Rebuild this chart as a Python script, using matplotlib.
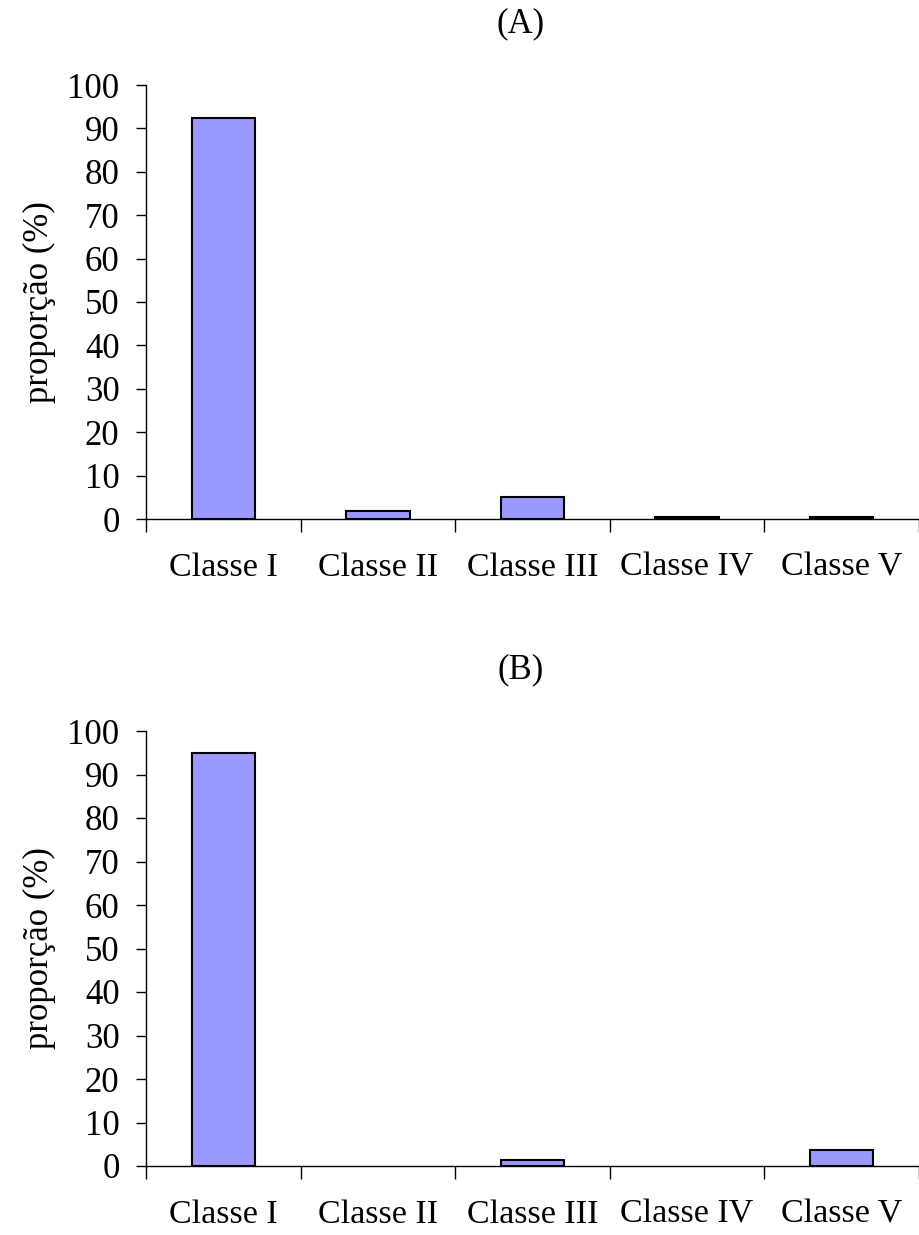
import numpy as np
import matplotlib.pyplot as plt

plt.rcParams["font.family"] = ["Liberation Serif", "DejaVu Serif"]

classes = ["Classe I", "Classe II", "Classe III", "Classe IV", "Classe V"]
prop_a = [92.3, 1.8, 5.1, 0.5, 0.5]
prop_b = [95.0, 0.0, 1.4, 0.0, 3.7]
panel_titles = ["(A)", "(B)"]

W, H = 919, 1235
fig = plt.figure(figsize=(W / 100, H / 100), dpi=100)


def px_axes(left, top, right, bottom):
    return fig.add_axes([left / W, 1 - bottom / H, (right - left) / W, (bottom - top) / H])


axes = [px_axes(146, 85, 919, 519), px_axes(146, 731, 919, 1166)]

for ax, vals, title in zip(axes, [prop_a, prop_b], panel_titles):
    x = np.arange(len(classes))
    # empty classes get no outline, so nothing shows on the baseline
    lw = [1.5 if v > 0 else 0 for v in vals]
    ax.bar(x, vals, width=0.41, color="#9999FF", edgecolor="black", linewidth=lw)
    ax.set_xlim(-0.5, len(classes) - 0.5)
    ax.set_ylim(0, 100)
    ax.set_yticks(np.arange(0, 101, 10))
    ax.set_xticks(x)
    ax.set_xticklabels(classes)
    ax.set_xticks(np.arange(-0.5, len(classes), 1.0), minor=True)
    ax.tick_params(axis="x", which="major", length=0, pad=24, labelsize=24.5)
    ax.tick_params(axis="x", which="minor", length=9, width=1, direction="out")
    ax.tick_params(axis="y", length=7, width=1, direction="out", pad=12, labelsize=25)
    for side in ["top", "right"]:
        ax.spines[side].set_visible(False)
    for side in ["left", "bottom"]:
        ax.spines[side].set_linewidth(1)
    ax.set_ylabel("proporção (%)", fontsize=25, labelpad=8)
    ax.set_title(title, fontsize=25, pad=38, x=0.485)

fig.savefig("out.png", dpi=100)
